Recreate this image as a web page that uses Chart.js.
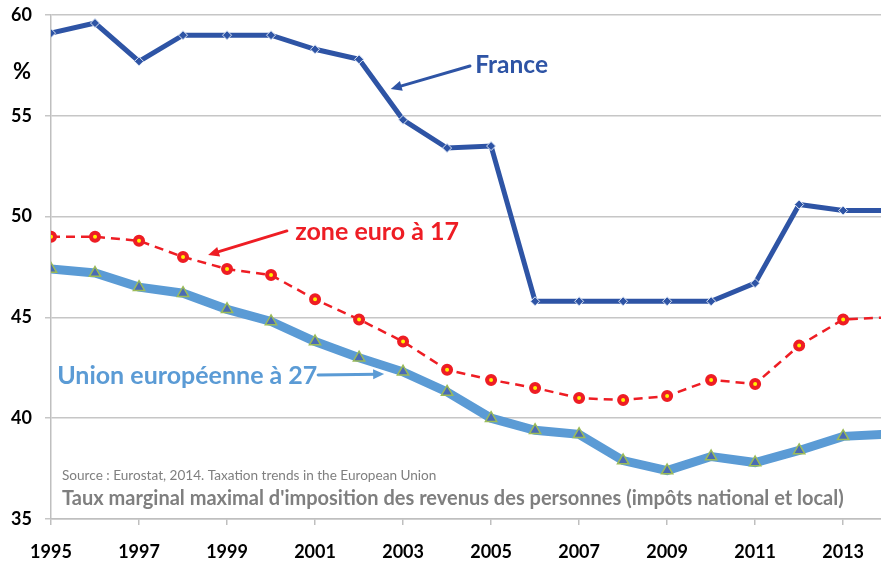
<!DOCTYPE html>
<html>
<head>
<meta charset="utf-8">
<script src="https://cdn.jsdelivr.net/npm/chart.js@4"></script>
<style>
html,body{margin:0;padding:0;background:#fff;}
#wrap{width:881px;height:565px;position:relative;}
</style>
</head>
<body>
<div id="wrap"><canvas id="c" width="881" height="565"></canvas></div>
<script>
const years = [1995,1996,1997,1998,1999,2000,2001,2002,2003,2004,2005,2006,2007,2008,2009,2010,2011,2012,2013,2014];
const france = [59.1,59.6,57.7,59.0,59.0,59.0,58.3,57.8,54.8,53.4,53.5,45.8,45.8,45.8,45.8,45.8,46.7,50.6,50.3,50.3];
const euro17 = [49.0,49.0,48.8,48.0,47.4,47.1,45.9,44.9,43.8,42.4,41.9,41.5,41.0,40.9,41.1,41.9,41.7,43.6,44.9,45.0];
const eu27 = [47.4,47.2,46.5,46.2,45.4,44.8,43.8,43.0,42.3,41.3,40.0,39.4,39.2,37.9,37.4,38.1,37.8,38.4,39.1,39.2];
const xTickYears = [1995,1997,1999,2001,2003,2005,2007,2009,2011,2013];
const yTicks = [35,40,45,50,55,60];

const FONT = "Lato, 'Open Sans', sans-serif";

const toPts = arr => arr.map((v,i)=>({x:years[i], y:v}));

// annotation anchors in data units
const labels = [
  {text:'France', x:2004.64, y:57.52, color:'#2E54A5', font:'bold 24.5px '+FONT},
  {text:'zone euro à 17', x:2000.55, y:49.24, color:'#EE1D24', font:'bold 25px '+FONT},
  {text:'Union européenne à 27', x:1995.14, y:42.09, color:'#5B9BD5', font:'bold 25px '+FONT},
  {text:'Source : Eurostat, 2014. Taxation trends in the European Union', x:1995.25, y:37.13, color:'#7F7F7F', font:'13.6px '+FONT},
  {text:"Taux marginal maximal d'imposition des revenus des personnes (impôts national et local)", x:1995.25, y:35.99, color:'#7F7F7F', font:'bold 20px '+FONT}
];
const arrows = [
  {x1:2004.52, y1:57.47, x2:2002.72, y2:56.33, color:'#2E54A5'},
  {x1:2000.36, y1:49.29, x2:1998.57, y2:48.10, color:'#EE1D24'},
  {x1:2001.07, y1:42.14, x2:2002.57, y2:42.19, color:'#5B9BD5'}
];

const annot = {
  id:'annot',
  afterDatasetsDraw(chart){
    const ctx = chart.ctx, xs = chart.scales.x, ys = chart.scales.y;
    ctx.save();
    ctx.textBaseline = 'middle';
    ctx.textAlign = 'left';
    labels.forEach(l=>{
      ctx.font = l.font; ctx.fillStyle = l.color;
      ctx.fillText(l.text, xs.getPixelForValue(l.x), ys.getPixelForValue(l.y));
    });
    arrows.forEach(a=>{
      const x1=xs.getPixelForValue(a.x1), y1=ys.getPixelForValue(a.y1);
      const x2=xs.getPixelForValue(a.x2), y2=ys.getPixelForValue(a.y2);
      const ang=Math.atan2(y2-y1,x2-x1);
      const L=11, W=5;
      ctx.strokeStyle=a.color; ctx.fillStyle=a.color; ctx.lineWidth=3; ctx.lineCap='round';
      ctx.beginPath(); ctx.moveTo(x1,y1);
      ctx.lineTo(x2-Math.cos(ang)*L*0.7, y2-Math.sin(ang)*L*0.7); ctx.stroke();
      ctx.beginPath();
      ctx.moveTo(x2,y2);
      ctx.lineTo(x2-Math.cos(ang)*L+Math.sin(ang)*W, y2-Math.sin(ang)*L-Math.cos(ang)*W);
      ctx.lineTo(x2-Math.cos(ang)*L-Math.sin(ang)*W, y2-Math.sin(ang)*L+Math.cos(ang)*W);
      ctx.closePath(); ctx.fill();
    });
    // % unit label
    ctx.font = 'bold 22px '+FONT; ctx.fillStyle='#000'; ctx.textAlign='center';
    ctx.fillText('%', ys.left+22, ys.getPixelForValue(57.2));
    ctx.restore();
  }
};

new Chart(document.getElementById('c'), {
  type:'line',
  data:{
    datasets:[
      {label:'France', data:toPts(france), borderColor:'#2E54A5', borderWidth:5,
       pointStyle:'rectRot', pointRadius:4.5, pointBackgroundColor:'#2E54A5', pointBorderColor:'#DDE6F5', pointBorderWidth:1,
       tension:0, order:1},
      {label:'zone euro à 17', data:toPts(euro17), borderColor:'#EE1D24', borderWidth:2.5, borderDash:[9,6],
       pointStyle:'circle', pointRadius:4, pointBackgroundColor:'#FFF200', pointBorderColor:'#EE1D24', pointBorderWidth:4,
       tension:0, order:2},
      {label:'Union européenne à 27', data:toPts(eu27), borderColor:'#5B9BD5', borderWidth:9,
       pointStyle:'triangle', pointRadius:6.5, pointBackgroundColor:'#4A6BB4', pointBorderColor:'#9BBB59', pointBorderWidth:1.5,
       tension:0, order:3}
    ]
  },
  options:{
    responsive:false, animation:false,
    layout:{autoPadding:false, padding:{top:15,right:0,left:0,bottom:0}},
    plugins:{legend:{display:false}, tooltip:{enabled:false}},
    scales:{
      x:{type:'linear', min:1995, max:2013.86,
         afterBuildTicks(s){ s.ticks = xTickYears.map(v=>({value:v})); },
         afterFit(s){ s.height = 46; s.paddingLeft = 0; s.paddingRight = 0; },
         grid:{drawOnChartArea:false, drawTicks:true, tickLength:6, color:'#BFBFBF', lineWidth:1.5},
         border:{display:true, color:'#BFBFBF', width:1.5},
         ticks:{padding:16, color:'#000', font:{family:FONT, size:18, weight:'bold'}, maxRotation:0, autoSkip:false,
                callback:v=>String(v)}
      },
      y:{min:35, max:60,
         afterBuildTicks(s){ s.ticks = yTicks.map(v=>({value:v})); },
         afterFit(s){ s.width = 51; s.paddingTop = 0; s.paddingBottom = 0; },
         grid:{color:'#C6C6C6', lineWidth:1.5, tickLength:6},
         border:{display:true, color:'#BFBFBF', width:1.5},
         ticks:{padding:13, color:'#000', font:{family:FONT, size:18, weight:'bold'}}
      }
    }
  },
  plugins:[annot]
});
</script>
</body>
</html>
